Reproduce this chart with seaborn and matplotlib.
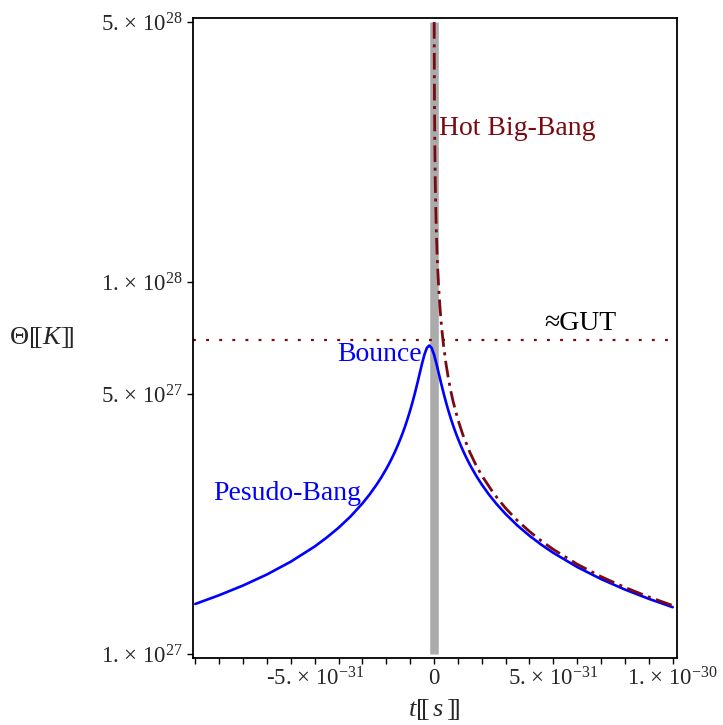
import numpy as np
import pandas as pd
import matplotlib
matplotlib.use("Agg")
import matplotlib.pyplot as plt
import seaborn as sns
from matplotlib.ticker import FixedLocator, FixedFormatter, MultipleLocator, NullLocator

# time in units of 1e-31 s, temperature in units of 1e27 K
t_bounce = [-10, -9, -8, -7, -6, -5, -4.5, -4, -3.5, -3, -2.7, -2.4, -2.2,
            -2.0, -1.9, -1.8, -1.7, -1.6, -1.5, -1.4, -1.3, -1.2, -1.1, -1.0,
            -0.9, -0.8, -0.7, -0.6, -0.5, -0.4, -0.3, -0.2, -0.1, 0, 0.1, 0.2,
            0.3, 0.4, 0.5, 0.6, 0.7, 0.8, 0.9, 1.0, 1.1, 1.2, 1.3, 1.4, 1.5,
            1.6, 1.8, 2.0, 2.3, 2.6, 3.0, 3.5, 4, 4.5, 5, 6, 7, 8, 9, 10]
theta_bounce = [1.363, 1.439, 1.528, 1.636, 1.771, 1.945, 2.055, 2.184, 2.342,
                2.539, 2.684, 2.856, 2.990, 3.145, 3.231, 3.325, 3.427, 3.539,
                3.661, 3.797, 3.947, 4.114, 4.303, 4.515, 4.756, 5.028, 5.336,
                5.677, 6.039, 6.385, 6.650, 6.751, 6.650, 6.385, 6.039, 5.677,
                5.336, 5.028, 4.756, 4.515, 4.303, 4.114, 3.947, 3.797, 3.661,
                3.539, 3.427, 3.325, 3.231, 3.145, 2.990, 2.856, 2.684, 2.539,
                2.378, 2.213, 2.079, 1.966, 1.870, 1.713, 1.590, 1.490, 1.407,
                1.336]

t_hot = [0.0073, 0.01, 0.015, 0.02, 0.03, 0.04, 0.05, 0.06, 0.075, 0.1, 0.125,
         0.15, 0.2, 0.25, 0.3, 0.35, 0.4, 0.5, 0.6, 0.7, 0.8, 1.0, 1.2, 1.5,
         1.75, 2, 2.5, 3, 3.5, 4, 4.5, 5, 6, 7, 8, 9, 10]
theta_hot = [49.97, 42.7, 34.86, 30.19, 24.65, 21.35, 19.10, 17.43, 15.59,
             13.50, 12.08, 11.03, 9.548, 8.54, 7.796, 7.218, 6.751, 6.039,
             5.513, 5.103, 4.774, 4.27, 3.898, 3.487, 3.228, 3.019, 2.701,
             2.465, 2.282, 2.135, 2.013, 1.910, 1.743, 1.614, 1.510, 1.423,
             1.350]

gut_level = 7.0e27
band_t = 0.0
band_range = [1e27, 5e28]

xtick_vals = [-1e-30, -5e-31, 0, 5e-31, 1e-30]
xtick_labels = ["", "-5. × 10$^{-31}$", "0", "5. × 10$^{-31}$", "1. × 10$^{-30}$"]
ytick_vals = [1e27, 5e27, 1e28, 5e28]
ytick_labels = ["1. × 10$^{27}$", "5. × 10$^{27}$", "1. × 10$^{28}$", "5. × 10$^{28}$"]

bounce = pd.DataFrame({"t": np.array(t_bounce) * 1e-31,
                       "theta": np.array(theta_bounce) * 1e27})
hot = pd.DataFrame({"t": np.array(t_hot) * 1e-31,
                    "theta": np.array(theta_hot) * 1e27})

sns.set_style("ticks")
plt.rcParams["font.family"] = ["Liberation Serif", "DejaVu Serif", "DejaVu Sans"]
plt.rcParams["mathtext.fontset"] = "custom"
plt.rcParams["mathtext.rm"] = "Liberation Serif"
plt.rcParams["mathtext.it"] = "Liberation Serif:italic"
plt.rcParams["mathtext.default"] = "regular"

maroon = "#7a0a12"

fig = plt.figure(figsize=(7.23, 7.25), dpi=100)
ax = fig.add_axes([192.7 / 723, 1 - 658 / 725, (677 - 192.7) / 723, (658 - 18) / 725])

ax.vlines(band_t, band_range[0], band_range[1], color="#ababab", lw=6.2,
          zorder=1)
ax.axhline(gut_level, color=maroon, lw=1.6, ls=(0, (1.3, 4.6)),
           dash_capstyle="butt", zorder=2)
sns.lineplot(data=bounce, x="t", y="theta", ax=ax, color="#0000ff", lw=1.9,
             sort=False, estimator=None, zorder=3)
sns.lineplot(data=hot, x="t", y="theta", ax=ax, color=maroon, lw=2.0,
             sort=False, estimator=None, zorder=4,
             linestyle=(0, (6.0, 2.0, 1.1, 2.0)))

ax.set_yscale("log")
ax.set_xlim(-1.011e-30, 1.018e-30)
ax.set_ylim(9.755e26, 5.125e28)

ax.xaxis.set_major_locator(FixedLocator(xtick_vals))
ax.xaxis.set_major_formatter(FixedFormatter(xtick_labels))
ax.xaxis.set_minor_locator(MultipleLocator(1e-31))
ax.yaxis.set_major_locator(FixedLocator(ytick_vals))
ax.yaxis.set_major_formatter(FixedFormatter(ytick_labels))
ax.yaxis.set_minor_locator(NullLocator())
ax.tick_params(which="both", direction="out", length=4, width=1.0,
               color="black", labelsize=16.5, pad=3)
for s in ax.spines.values():
    s.set_visible(True)
    s.set_color("black")
    s.set_linewidth(1.3)

ax.set_xlabel("")
ax.set_ylabel("")

ax.text(0.02e-30, 2.59e28, "Hot Big-Bang", color=maroon, fontsize=20,
        ha="left", va="center")
ax.text(0.46e-30, 7.73e27, "≈GUT", color="black", fontsize=20,
        ha="left", va="center")
ax.text(-0.05e-30, 6.38e27, "Bounce", color="#0000ff", fontsize=20,
        ha="right", va="center")
ax.text(-0.925e-30, 2.70e27, "Pesudo-Bang", color="#0000ff", fontsize=20,
        ha="left", va="center")

# double brackets drawn as overlapped [ [ and ] ]
fig.text(42 / 723, 1 - 338 / 725, r"$\Theta[\![\mathit{K}]\!]$", fontsize=19,
         ha="center", va="center")
fig.text(434 / 723, 1 - 710 / 725, r"$\mathit{t}[\![\,\mathit{s}\,]\!]$",
         fontsize=19, ha="center", va="center")

fig.savefig("out.png", dpi=100)
